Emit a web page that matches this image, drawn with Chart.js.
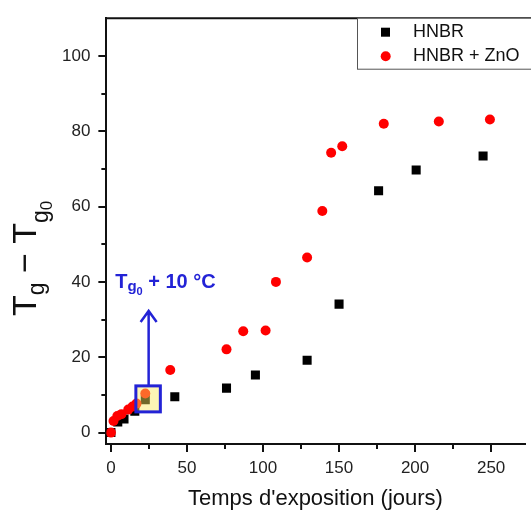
<!DOCTYPE html>
<html>
<head>
<meta charset="utf-8">
<title>Tg - Tg0</title>
<script src="https://cdn.jsdelivr.net/npm/chart.js@4.4.1/dist/chart.umd.min.js"></script>
<style>
  html, body { margin: 0; padding: 0; background: #fff; overflow: hidden; }
  #wrap { width: 531px; height: 512px; }
</style>
</head>
<body>
<div id="wrap"><canvas id="myChart" width="531" height="512"></canvas></div>
<script>
const seriesNames = ['HNBR', 'HNBR + ZnO'];

// HNBR (carrés noirs)
const hnbrDays = [0, 4.5, 8.6, 15.7, 22.6, 42, 76, 95, 129, 150, 176, 200.7, 244.7];
const hnbrDelta = [0, 2.8, 3.6, 5.7, 8.7, 9.5, 11.8, 15.3, 19.2, 34.1, 64.2, 69.7, 73.4];

// HNBR + ZnO (ronds rouges)
const znoDays = [0, 1.7, 4.2, 6.9, 11.4, 14.2, 16.8, 22.6, 39, 76, 87, 101.7, 108.5, 129, 139, 144.8, 152.1, 179.4, 215.6, 249.2];
const znoDelta = [0, 3.1, 4.4, 4.9, 6.1, 6.9, 7.7, 10.4, 16.6, 22.1, 26.9, 27.1, 40, 46.5, 58.8, 74.3, 76, 82, 82.6, 83.1];

const xTickValues = [0, 50, 100, 150, 200, 250];
const xMinorTicks = [25, 75, 125, 175, 225];
const yTickValues = [0, 20, 40, 60, 80, 100];
const yMinorTicks = [10, 30, 50, 70, 90];

const FONT = '"Liberation Sans", Arial, sans-serif';
const BLUE = '#2323d6';

function toPoints(xs, ys) {
  return xs.map((x, i) => ({ x: x, y: ys[i] }));
}

// axes, minor ticks, legend, annotation, y title
const extras = {
  id: 'extras',
  afterDraw(chart) {
    const ctx = chart.ctx;
    const area = chart.chartArea;
    const xs = chart.scales.x;
    const ys = chart.scales.y;

    ctx.save();
    ctx.strokeStyle = '#111';
    ctx.lineWidth = 2;
    // top frame line
    ctx.beginPath();
    ctx.moveTo(area.left - 1, area.top);
    ctx.lineTo(chart.width, area.top);
    ctx.stroke();
    // minor ticks
    ctx.beginPath();
    yMinorTicks.forEach(v => {
      const py = Math.round(ys.getPixelForValue(v));
      ctx.moveTo(area.left, py);
      ctx.lineTo(area.left - 5, py);
    });
    xMinorTicks.forEach(v => {
      const px = Math.round(xs.getPixelForValue(v));
      ctx.moveTo(px, area.bottom);
      ctx.lineTo(px, area.bottom + 5);
    });
    ctx.stroke();

    // highlight box at Tg0 + 10 °C
    const bx1 = xs.getPixelForValue(16.4), bx2 = xs.getPixelForValue(32.5);
    const by1 = ys.getPixelForValue(12.4), by2 = ys.getPixelForValue(5.5);
    ctx.fillStyle = 'rgba(250, 232, 90, 0.45)';
    ctx.fillRect(bx1, by1, bx2 - bx1, by2 - by1);
    ctx.strokeStyle = BLUE;
    ctx.lineWidth = 3;
    ctx.strokeRect(bx1, by1, bx2 - bx1, by2 - by1);

    // arrow
    const ax = xs.getPixelForValue(24.8);
    const tip = ys.getPixelForValue(32.3);
    ctx.lineWidth = 2.5;
    ctx.beginPath();
    ctx.moveTo(ax, by1);
    ctx.lineTo(ax, tip);
    ctx.moveTo(ax - 8, tip + 11);
    ctx.lineTo(ax, tip);
    ctx.lineTo(ax + 8, tip + 11);
    ctx.stroke();

    // label T_g0 + 10 °C
    let cx = xs.getPixelForValue(2.8);
    const base = ys.getPixelForValue(38.3);
    ctx.fillStyle = BLUE;
    ctx.textBaseline = 'alphabetic';
    ctx.textAlign = 'left';
    const piece = (t, size, dy) => {
      ctx.font = 'bold ' + size + 'px ' + FONT;
      ctx.fillText(t, cx, base + dy);
      cx += ctx.measureText(t).width;
    };
    piece('T', 20, 0);
    piece('g', 15, 3);
    piece('0', 11, 7);
    piece(' + 10 \u00b0C', 20, 0);

    // legend
    ctx.fillStyle = '#fff';
    ctx.fillRect(357, area.top, chart.width - 357 + 5, 51);
    ctx.strokeStyle = '#555';
    ctx.lineWidth = 1;
    ctx.strokeRect(357.5, area.top, chart.width - 357 + 5, 51);
    const rows = [area.top + 14, area.top + 38];
    ctx.fillStyle = '#000';
    ctx.fillRect(381, rows[0] - 4.5, 9, 9);
    ctx.fillStyle = '#f00';
    ctx.beginPath();
    ctx.arc(385.7, rows[1], 5, 0, Math.PI * 2);
    ctx.fill();
    ctx.fillStyle = '#111';
    ctx.font = '18px ' + FONT;
    ctx.textBaseline = 'middle';
    ctx.fillText(chart.data.datasets[0].label, 413, rows[0]);
    ctx.fillText(chart.data.datasets[1].label, 413, rows[1]);

    // y axis title: T_g − T_g0
    ctx.translate(36, 316);
    ctx.rotate(-Math.PI / 2);
    ctx.textBaseline = 'alphabetic';
    ctx.fillStyle = '#111';
    let tx = 0;
    const part = (t, size, dy) => {
      ctx.font = size + 'px ' + FONT;
      ctx.fillText(t, tx, dy);
      tx += ctx.measureText(t).width;
    };
    part('T', 34, 0);
    part('g', 23, 8);
    part(' \u2212 ', 34, 0);
    part('T', 34, 0);
    part('g', 23, 12);
    part('0', 17, 16);
    ctx.restore();
  }
};

const ctx = document.getElementById('myChart');
const chart = new Chart(ctx, {
  type: 'scatter',
  data: {
    datasets: [
      {
        label: seriesNames[0],
        data: toPoints(hnbrDays, hnbrDelta),
        pointStyle: 'rect',
        pointRadius: 6.4,
        pointHoverRadius: 6.4,
        backgroundColor: '#000',
        borderWidth: 0,
        order: 1
      },
      {
        label: seriesNames[1],
        data: toPoints(znoDays, znoDelta),
        pointStyle: 'circle',
        pointRadius: 5,
        pointHoverRadius: 5,
        backgroundColor: '#f00',
        borderWidth: 0,
        order: 0
      }
    ]
  },
  options: {
    responsive: false,
    animation: false,
    events: [],
    layout: { padding: { left: 54, top: 17, right: 0, bottom: 0 } },
    plugins: {
      legend: { display: false },
      tooltip: { enabled: false }
    },
    scales: {
      x: {
        type: 'linear',
        position: 'bottom',
        min: -3,
        max: 272,
        afterBuildTicks: (scale) => { scale.ticks = xTickValues.map(v => ({ value: v })); },
        grid: { drawOnChartArea: false, drawTicks: true, tickLength: 8, color: '#111', lineWidth: 2 },
        border: { display: true, color: '#111', width: 2 },
        ticks: { color: '#222', padding: 7, maxRotation: 0, font: { family: FONT, size: 17, lineHeight: 1.1 } },
        title: {
          display: true,
          text: "Temps d'exposition (jours)",
          color: '#111',
          font: { family: FONT, size: 22 },
          padding: { top: 1, bottom: 0 }
        }
      },
      y: {
        type: 'linear',
        min: -3,
        max: 110,
        afterBuildTicks: (scale) => { scale.ticks = yTickValues.map(v => ({ value: v })); },
        grid: { drawOnChartArea: false, drawTicks: true, tickLength: 8, color: '#111', lineWidth: 2 },
        border: { display: true, color: '#111', width: 2 },
        ticks: { color: '#222', padding: 8, font: { family: FONT, size: 17 } }
      }
    }
  },
  plugins: [extras]
});
</script>
</body>
</html>
